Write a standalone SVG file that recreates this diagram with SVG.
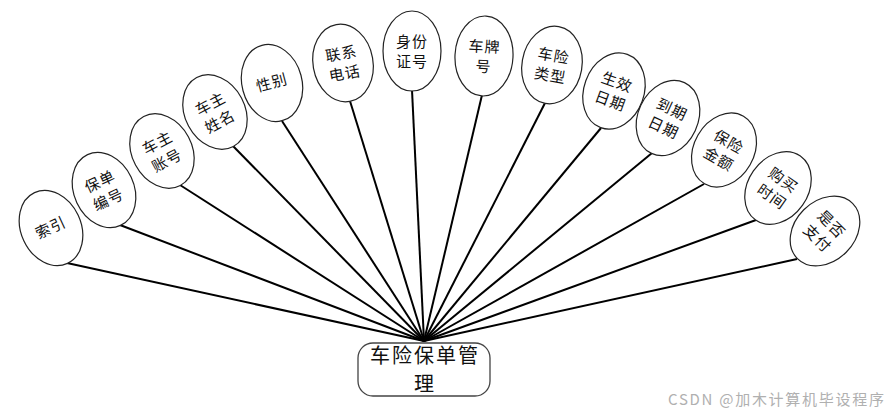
<svg xmlns="http://www.w3.org/2000/svg" width="889" height="415" viewBox="0 0 889 415">
<style>
.e{fill:#fff;stroke:#222;stroke-width:1.2}
.t{font-family:"Noto Sans CJK SC","Noto Sans",sans-serif;font-size:15px;fill:#111;text-anchor:middle;letter-spacing:1px}
.c line{stroke:#000;stroke-width:2}
.box{fill:#fff;stroke:#444;stroke-width:1.3}
.bt{font-family:"Noto Sans CJK SC","Noto Sans",sans-serif;font-size:20px;fill:#111;text-anchor:middle}
.wm{font-family:"Noto Sans CJK SC","Noto Sans",sans-serif;font-size:15px;fill:#b0b0b0}
</style>
<rect width="889" height="415" fill="#fff"/>
<g id="connectors" class="c">
<line x1="67" y1="263" x2="424" y2="341"/>
<line x1="120" y1="225" x2="424" y2="341"/>
<line x1="180" y1="185" x2="424" y2="341"/>
<line x1="233" y1="146" x2="424" y2="341"/>
<line x1="282" y1="121" x2="424" y2="341"/>
<line x1="350" y1="101" x2="424" y2="341"/>
<line x1="412" y1="90" x2="424" y2="341"/>
<line x1="482" y1="95" x2="424" y2="341"/>
<line x1="545" y1="103" x2="424" y2="341"/>
<line x1="601" y1="128" x2="424" y2="341"/>
<line x1="652" y1="153" x2="424" y2="341"/>
<line x1="704" y1="184" x2="424" y2="341"/>
<line x1="756" y1="220" x2="424" y2="341"/>
<line x1="797" y1="259" x2="424" y2="341"/>
</g>
<g id="n1" transform="translate(51,228) rotate(-25)"><ellipse class="e" rx="30" ry="39"/><text class="t" y="5">索引</text></g>
<g id="n2" transform="translate(104,190) rotate(-25)"><ellipse class="e" rx="30" ry="39"/><text class="t" y="-4">保单</text><text class="t" y="16">编号</text></g>
<g id="n3" transform="translate(162,151) rotate(-28)"><ellipse class="e" rx="30" ry="39"/><text class="t" y="-4">车主</text><text class="t" y="16">账号</text></g>
<g id="n4" transform="translate(215,112) rotate(-28)"><ellipse class="e" rx="30" ry="39"/><text class="t" y="-4">车主</text><text class="t" y="16">姓名</text></g>
<g id="n5" transform="translate(272,83) rotate(-15)"><ellipse class="e" rx="30" ry="39"/><text class="t" y="5">性别</text></g>
<g id="n6" transform="translate(343,63) rotate(-10)"><ellipse class="e" rx="30" ry="39"/><text class="t" y="-4">联系</text><text class="t" y="16">电话</text></g>
<g id="n7" transform="translate(412,51) rotate(0)"><ellipse class="e" rx="29" ry="40"/><text class="t" y="-4">身份</text><text class="t" y="16">证号</text></g>
<g id="n8" transform="translate(484,56) rotate(3)"><ellipse class="e" rx="29" ry="40"/><text class="t" y="-4">车牌</text><text class="t" y="16">号</text></g>
<g id="n9" transform="translate(552,65) rotate(10)"><ellipse class="e" rx="30" ry="39"/><text class="t" y="-4">车险</text><text class="t" y="16">类型</text></g>
<g id="n10" transform="translate(614,91) rotate(20)"><ellipse class="e" rx="30" ry="39"/><text class="t" y="-4">生效</text><text class="t" y="16">日期</text></g>
<g id="n11" transform="translate(668,118) rotate(25)"><ellipse class="e" rx="30" ry="39"/><text class="t" y="-4">到期</text><text class="t" y="16">日期</text></g>
<g id="n12" transform="translate(724,150) rotate(30)"><ellipse class="e" rx="30" ry="39"/><text class="t" y="-4">保险</text><text class="t" y="16">金额</text></g>
<g id="n13" transform="translate(778,188) rotate(35)"><ellipse class="e" rx="30" ry="39"/><text class="t" y="-4">购买</text><text class="t" y="16">时间</text></g>
<g id="n14" transform="translate(825,231) rotate(45)"><ellipse class="e" rx="30" ry="39"/><text class="t" y="-4">是否</text><text class="t" y="16">支付</text></g>
<g id="hub"><rect class="box" x="358" y="343" width="132" height="53" rx="15"/><text class="bt" x="424" y="363" textLength="108" lengthAdjust="spacing">车险保单管</text><text class="bt" x="424" y="391">理</text></g>
<text class="wm" x="668" y="405" textLength="216" lengthAdjust="spacing">CSDN @加木计算机毕设程序</text>
</svg>
